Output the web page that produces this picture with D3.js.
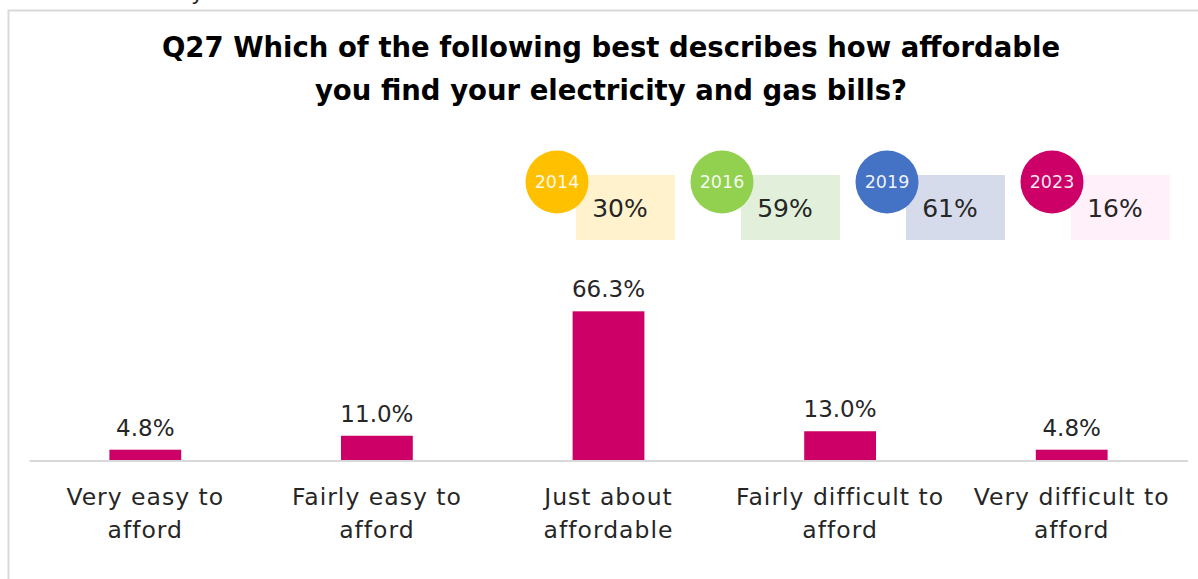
<!DOCTYPE html>
<html>
<head>
<meta charset="utf-8">
<script src="https://cdn.jsdelivr.net/npm/d3@7/dist/d3.min.js"></script>
<style>
  html, body { margin: 0; padding: 0; background: #fff; }
  svg { display: block; }
  text { font-family: "Century Gothic", "DejaVu Sans", sans-serif; }
</style>
</head>
<body>
<svg id="chart" width="1198" height="579"></svg>
<script>
// Survey answers, Q27
const categoryLines = [
  ["Very easy to", "afford"],
  ["Fairly easy to", "afford"],
  ["Just about", "affordable"],
  ["Fairly difficult to", "afford"],
  ["Very difficult to", "afford"]
];
const shares = [4.8, 11.0, 66.3, 13.0, 4.8];

// Earlier survey waves (share shown in the callout boxes)
const waveYears = ["2014", "2016", "2019", "2023"];
const waveShares = [30, 59, 61, 16];

const titleLines = [
  "Q27 Which of the following best describes how affordable",
  "you find your electricity and gas bills?"
];

// Styling
const barColor = "#CC0066";
const waveCircleColors = ["#FFC000", "#92D050", "#4472C4", "#CC0066"];
const waveBoxColors = ["#FFF2CC", "#E2EFDA", "#D5DBEA", "#FFF0FA"];
const textColor = "#262626";

const svg = d3.select("#chart");
const W = 1198, H = 579;

// Outer frame (top and left edges visible)
svg.append("path")
  .attr("d", `M8.5,${H} V10.5 H${W}`)
  .attr("fill", "none")
  .attr("stroke", "#d9d9d9")
  .attr("stroke-width", 2);

// descender of the caption line above the frame
svg.append("text")
  .attr("x", 191).attr("y", 0)
  .attr("font-size", 22)
  .attr("fill", textColor)
  .text("y");

// Title
const title = svg.append("g");
title.selectAll("text")
  .data(titleLines)
  .join("text")
  .attr("x", 611)
  .attr("y", (d, i) => 57 + i * 43)
  .attr("text-anchor", "middle")
  .attr("font-weight", "bold")
  .attr("font-size", 27.5)
  .attr("fill", "#000")
  .text(d => d);

// Scales
const x = d3.scaleBand()
  .domain(d3.range(shares.length))
  .range([29.5, 1187.5])
  .paddingInner(0.69)
  .paddingOuter(0.345);

const y = d3.scaleLinear()
  .domain([0, 70])
  .range([460.5, 303]);

// Bars
svg.append("g").selectAll("rect")
  .data(shares)
  .join("rect")
  .attr("x", (d, i) => x(i))
  .attr("width", x.bandwidth())
  .attr("y", d => y(d))
  .attr("height", d => y(0) - y(d))
  .attr("fill", barColor);

// Baseline axis
const axis = svg.append("g")
  .attr("transform", `translate(0,${y(0)})`)
  .call(d3.axisBottom(x).tickSize(0).tickFormat(""));
axis.select(".domain")
  .attr("stroke", "#d9d9d9")
  .attr("stroke-width", 2)
  .attr("d", "M29.5,0.5H1188");

// Category labels (two lines each)
const cat = svg.append("g").selectAll("text")
  .data(categoryLines)
  .join("text")
  .attr("text-anchor", "middle")
  .attr("font-size", 23.5)
  .attr("letter-spacing", 1)
  .attr("fill", textColor);
cat.selectAll("tspan")
  .data((d, i) => d.map(line => ({ line, i })))
  .join("tspan")
  .attr("x", d => x(d.i) + x.bandwidth() / 2)
  .attr("y", (d, j) => 505 + j * 33)
  .text(d => d.line);

// Value labels
const fmt = d3.format(".1f");
svg.append("g").selectAll("text")
  .data(shares)
  .join("text")
  .attr("x", (d, i) => x(i) + x.bandwidth() / 2)
  .attr("y", d => y(d) - 14)
  .attr("text-anchor", "middle")
  .attr("font-size", 23)
  .attr("fill", textColor)
  .text(d => fmt(d) + "%");

// Earlier-wave callouts
const wx = d3.scalePoint()
  .domain(waveYears)
  .range([557, 1052]);

const wave = svg.append("g").selectAll("g")
  .data(waveYears.map((yr, i) => ({ yr, v: waveShares[i], i })))
  .join("g")
  .attr("transform", d => `translate(${wx(d.yr)},0)`);

wave.append("rect")
  .attr("x", 19).attr("y", 175)
  .attr("width", 99).attr("height", 65)
  .attr("fill", d => waveBoxColors[d.i]);

wave.append("circle")
  .attr("cx", 0).attr("cy", 182)
  .attr("r", 31.5)
  .attr("fill", d => waveCircleColors[d.i]);

wave.append("text")
  .attr("x", 0).attr("y", 188)
  .attr("text-anchor", "middle")
  .attr("font-size", 17.5)
  .attr("fill", "#fff")
  .attr("fill-opacity", 0.92)
  .text(d => d.yr);

wave.append("text")
  .attr("x", 63).attr("y", 217)
  .attr("text-anchor", "middle")
  .attr("font-size", 25)
  .attr("fill", textColor)
  .text(d => d.v + "%");
</script>
</body>
</html>
